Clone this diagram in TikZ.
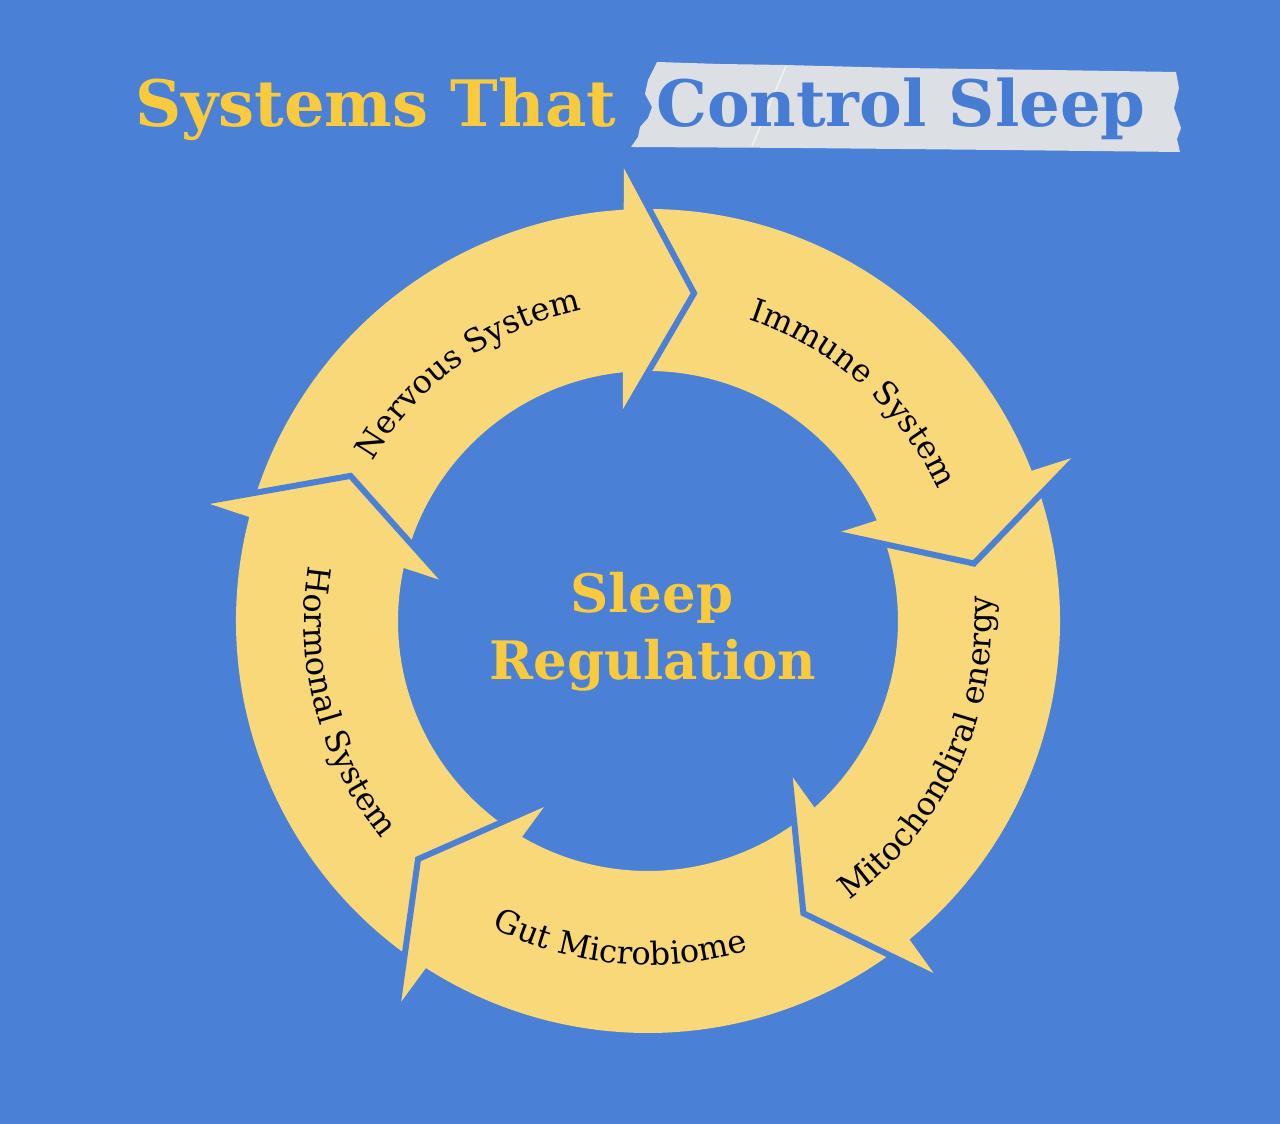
\documentclass[tikz,border=0pt]{standalone}
\usepackage{fontspec}
\setmainfont{DejaVu Serif}
\usetikzlibrary{decorations.text}

\definecolor{bgblue}{HTML}{4A80D6}
\definecolor{ringyellow}{HTML}{F8D878}
\definecolor{titleyellow}{HTML}{F9CA3C}
\definecolor{tapegrey}{HTML}{DCDFE4}
\definecolor{tapeblue}{HTML}{467CD3}

\newcommand{\titlefont}{\fontsize{64}{70}\selectfont\bfseries}
\newcommand{\centrefont}{\fontsize{53}{60}\selectfont\bfseries}
\newcommand{\arcfont}{\fontsize{32}{38}\selectfont}

\tikzset{
  ringpart/.style={fill=ringyellow},
  headgap/.style={draw=bgblue, line width=6pt, line join=miter},
  arclabel/.style={decorate, decoration={text along path, text align=center, text={|\arcfont|#1}}},
}

\begin{document}
\begin{tikzpicture}[x=1pt,y=1pt]
        \useasboundingbox (0,0) rectangle (1280,1124);

        % Draw the background
        \fill[bgblue] (0,0) rectangle (1280,1124);

        % Draw the tape behind the title
        \fill[tapegrey] (657,1062) -- (720,1060) -- (784,1059) -- (900,1056) -- (1050,1054)
            -- (1176,1052) -- (1179,1036) -- (1174,1016) -- (1181,996) -- (1177,985)
            -- (1180,972) -- (1000,974) -- (800,976) -- (631,977) -- (638,987)
            -- (640,997) -- (648,1006) -- (652,1017) -- (645,1030) -- (648,1044)
            -- (652,1052) -- cycle;
        \draw[white, opacity=0.6, line width=1.5pt] (786,1058) -- (752,978);

        % Title
        \node[anchor=base west, inner sep=0, text=titleyellow, font=\titlefont] (title1) at (135,997) {Systems That};
        \node[anchor=base west, inner sep=0, text=tapeblue, font=\titlefont] (title2) at (656,997) {Control Sleep};

        % Draw the five arrows of the ring
        \begin{scope}[shift={(648,503)}]
            \foreach \t in {82,10,-62,-134,-206}
                \fill[ringpart] (\t+83:412) arc[start angle=\t+83, end angle=\t+11, radius=412]
                    -- (\t+13.5:250) arc[start angle=\t+13.5, end angle=\t+85.5, radius=250]
                    -- (\t+72:331) -- cycle;

            % Heads and the gap in front of each head
            \foreach \t in {82,10,-62,-134,-206}
                \fill[ringpart] (\t+11:460) -- (\t:331) -- (\t+15:207) -- cycle;
            \foreach \t in {82,10,-62,-134,-206}
                \draw[headgap] (\t+11:460) -- (\t:331) -- (\t+15:207);

            % Labels along the arrows
            \path[arclabel=Nervous System] (155:318) arc[start angle=155, end angle=97, radius=318];
            \path[arclabel=Immune System] (77:318) arc[start angle=77, end angle=19, radius=318];
            \path[arclabel=Mitochondiral energy] (-60:344) arc[start angle=-60, end angle=10, radius=344];
            \path[arclabel=Gut Microbiome] (235:344) arc[start angle=235, end angle=295, radius=344];
            \path[arclabel=Hormonal System] (165:344) arc[start angle=165, end angle=225, radius=344];
        \end{scope}

        % Centre text
        \node[anchor=base, inner sep=0, text=titleyellow, font=\centrefont] (sleep) at (652,511) {Sleep};
        \node[anchor=base, inner sep=0, text=titleyellow, font=\centrefont] (regulation) at (653,444) {Regulation};
\end{tikzpicture}
\end{document}
